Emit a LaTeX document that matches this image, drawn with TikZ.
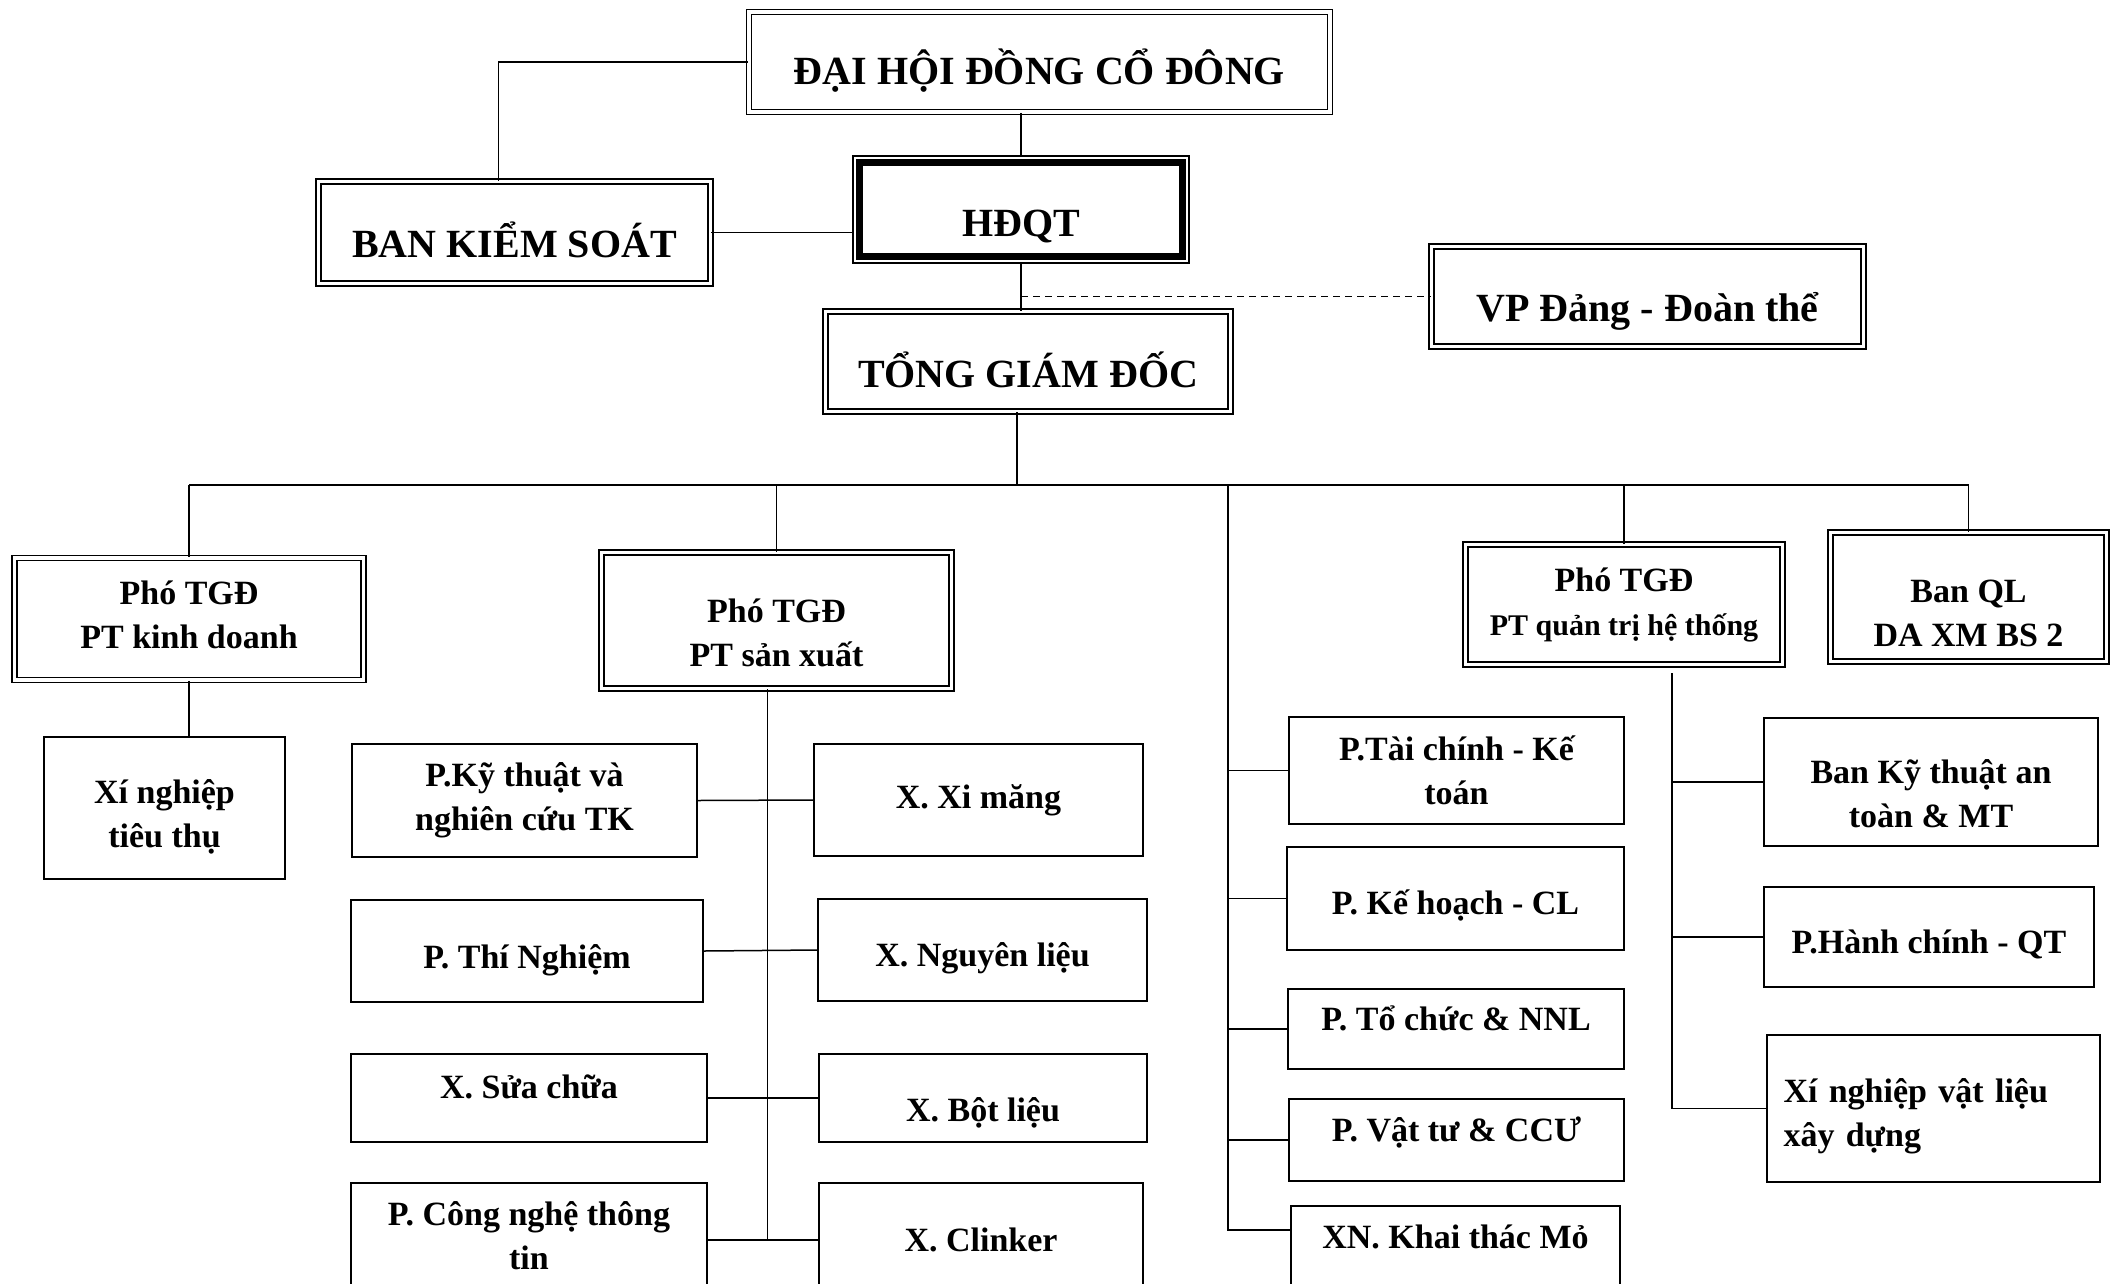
\documentclass[tikz,border=0pt]{standalone}
\usepackage{fontspec}
\setmainfont{Liberation Serif}
% move a line of text down inside its box, keeping its size
\newcommand{\lowr}[2]{\raisebox{-#1}[\height][\depth]{#2}}
\begin{document}
\begin{tikzpicture}[x=1pt,y=-1pt]
\tikzset{
    head/.style={draw,line width=1.6pt,double,double distance=3.5pt,align=center,inner sep=0pt,font=\fontsize{40}{48}\selectfont\bfseries},
    vice/.style={draw,line width=1.6pt,double,double distance=3.5pt,align=center,inner sep=0pt,font=\fontsize{34}{44}\selectfont\bfseries},
    unit/.style={draw,line width=1.8pt,align=center,inner sep=0pt,font=\fontsize{34}{44}\selectfont\bfseries},
    link/.style={line width=1.5pt}
}
\useasboundingbox (0,0) rectangle (2120,1283);

% top of the chart
\node[head,minimum width=581pt,minimum height=100pt] (dh) at (1039.5,62) {\lowr{9pt}{ĐẠI HỘI ĐỒNG CỔ ĐÔNG}};
\node[draw,line width=1.8pt,minimum width=336pt,minimum height=107pt,font=\fontsize{40}{48}\selectfont\bfseries] (hd) at (1021,209.5) {\lowr{17pt}{HĐQT}};
\draw[line width=7pt] ([shift={(7.5pt,-7.5pt)}]hd.north west) rectangle ([shift={(-7.5pt,7.5pt)}]hd.south east);
\node[head,minimum width=392pt,minimum height=102pt] (bks) at (514.5,232.5) {\lowr{7pt}{BAN KIỂM SOÁT}};
\node[head,minimum width=432pt,minimum height=100pt] (vp) at (1647.5,296.5) {\lowr{15pt}{VP Đảng - Đoàn thể}};
\node[head,minimum width=405pt,minimum height=100pt] (tgd) at (1028,361.5) {\lowr{8pt}{TỔNG GIÁM ĐỐC}};

\draw[link] (dh.west) -| ([xshift=-16pt]bks.north);
\draw[link] (hd.north |- dh.south) -- (hd.north);
\draw[link] (bks.east) -- (bks.east -| hd.west);
\draw[link] (hd.south) -- (hd.south |- tgd.north);
\draw[link,dash pattern=on 7pt off 5pt] (hd.south |- vp.west) -- (vp.west);

% deputies
\node[vice,minimum width=349pt,minimum height=122pt] (pkd) at (189,619) {\lowr{-4pt}{Phó TGĐ}\\\lowr{-4pt}{PT kinh doanh}};
\node[vice,minimum width=350pt,minimum height=136pt] (psx) at (776.5,620.5) {\lowr{12pt}{Phó TGĐ}\\\lowr{12pt}{PT sản xuất}};
\node[vice,minimum width=317pt,minimum height=120pt] (pqt) at (1624,604.5) {Phó TGĐ\\{\fontsize{30}{40}\selectfont PT quản trị hệ thống}};
\node[vice,minimum width=276pt,minimum height=129pt] (banql) at (1968.5,597) {\lowr{16pt}{Ban QL}\\\lowr{16pt}{DA XM BS 2}};

\coordinate (bus) at (1017,485);
\draw[link] (bus |- tgd.south) -- (bus);
\draw[link] (pkd.north |- bus) -- (banql.north |- bus);
\foreach \n in {pkd,psx,pqt,banql}
    \draw[link] (\n.north |- bus) -- (\n.north);

% kinh doanh
\node[unit,minimum width=241pt,minimum height=142pt] (xntt) at (164.5,808) {\lowr{9pt}{Xí nghiệp}\\\lowr{9pt}{tiêu thụ}};
\draw[link] (pkd.south) -- (pkd.south |- xntt.north);

% san xuat
\node[unit,minimum width=345pt,minimum height=113pt] (pkt) at (524.5,800.5) {P.Kỹ thuật và\\nghiên cứu TK};
\node[unit,minimum width=352pt,minimum height=102pt] (pthn) at (527,951) {\lowr{9pt}{P. Thí Nghiệm}};
\node[unit,minimum width=356pt,minimum height=88pt] (xsc) at (529,1098) {\lowr{-11pt}{X. Sửa chữa}};
\node[unit,minimum width=356pt,minimum height=114pt] (pcntt) at (529,1240) {\lowr{-4pt}{P. Công nghệ thông}\\\lowr{-4pt}{tin}};
\node[unit,minimum width=329pt,minimum height=112pt] (xxm) at (978.5,800) {X. Xi măng};
\node[unit,minimum width=329pt,minimum height=102pt] (xnl) at (982.5,950) {\lowr{8pt}{X. Nguyên liệu}};
\node[unit,minimum width=328pt,minimum height=88pt] (xbl) at (983,1098) {\lowr{15pt}{X. Bột liệu}};
\node[unit,minimum width=324pt,minimum height=114pt] (xcl) at (981,1240) {X. Clinker};

\coordinate (sx) at ([xshift=-9pt]psx.south);
\draw[link] (sx) -- (sx |- pcntt.east);
\draw[link] (pkt.east) -- (xxm.west);
\draw[link] (pthn.east) -- (xnl.west);
\draw[link] (xsc.east) -- (xbl.west);
\draw[link] (pcntt.east) -- (xcl.west);

% phong ban truc thuoc
\node[unit,minimum width=335pt,minimum height=107pt] (ptckt) at (1456.5,770.5) {P.Tài chính - Kế\\toán};
\node[unit,minimum width=337pt,minimum height=103pt] (pkh) at (1455.5,898.5) {\lowr{7pt}{P. Kế hoạch - CL}};
\node[unit,minimum width=336pt,minimum height=80pt] (ptc) at (1456,1029) {\lowr{-11pt}{P. Tổ chức \& NNL}};
\node[unit,minimum width=335pt,minimum height=82pt] (pvt) at (1456.5,1140) {\lowr{-7pt}{P. Vật tư \& CCƯ}};
\node[unit,minimum width=329pt,minimum height=90pt] (xnkt) at (1455.5,1251) {\lowr{-14pt}{XN. Khai thác Mỏ}};

\coordinate (mid) at (1228,485);
\draw[link] (mid) |- ([yshift=21pt]xnkt.west);
\foreach \n in {ptckt,pkh,ptc,pvt}
    \draw[link] (\n.west -| mid) -- (\n.west);

% quan tri he thong
\node[unit,minimum width=334pt,minimum height=128pt] (bkt) at (1931,782) {\lowr{12pt}{Ban Kỹ thuật an}\\\lowr{12pt}{toàn \& MT}};
\node[unit,minimum width=330pt,minimum height=100pt] (phc) at (1929,937) {\lowr{7pt}{P.Hành chính - QT}};
\node[unit,minimum width=333pt,minimum height=147pt,align=left,text width=300pt] (xnvl) at (1933.5,1108.5) {\lowr{8pt}{Xí nghiệp vật liệu}\\\lowr{8pt}{xây dựng}};

\coordinate (qt) at (1672,673);
\draw[link] (qt) |- (xnvl.west);
\foreach \n in {bkt,phc}
    \draw[link] (\n.west -| qt) -- (\n.west);
\end{tikzpicture}
\end{document}
